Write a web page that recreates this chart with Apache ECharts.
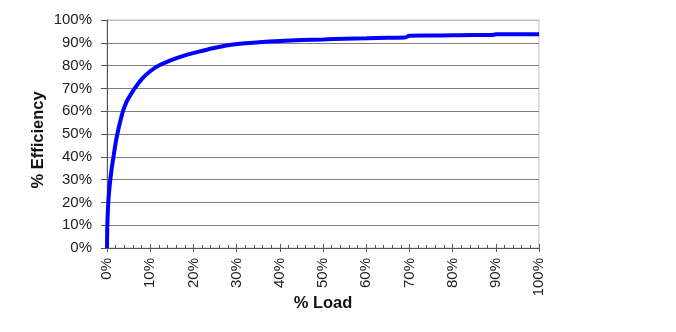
<!DOCTYPE html>
<html>
<head>
<meta charset="utf-8">
<script src="https://cdn.jsdelivr.net/npm/echarts@6/dist/echarts.min.js"></script>
<style>
  html, body { margin: 0; padding: 0; background: #fff; }
  #chart { width: 676px; height: 332px; }
</style>
</head>
<body>
<div id="chart"></div>
<script>
// Converter efficiency as a function of load (both in percent)
const loadPct = [0, 0.05, 0.15, 0.3, 0.5, 0.77, 1.1, 1.5, 2, 2.4, 3, 3.7, 4.5, 5.4, 6.4, 8, 10, 12, 15, 18.4, 21, 24.5, 28, 32, 36, 40, 45, 50, 55, 60, 65, 69, 70, 75, 80, 85, 89, 90, 95, 100];
const efficiencyPct = [0, 8, 14, 20, 25, 30, 35, 40, 46, 50, 55, 60, 64, 67, 70, 74, 77.5, 80, 82.5, 84.7, 86, 87.6, 88.9, 89.8, 90.4, 90.8, 91.2, 91.5, 91.8, 92, 92.2, 92.3, 93.1, 93.2, 93.3, 93.4, 93.4, 93.7, 93.7, 93.7];
const axisMin = 0;
const axisMax = 100;
const tickStep = 10;

const font = '"Liberation Sans", Arial, sans-serif';
const points = loadPct.map((x, i) => [x, efficiencyPct[i]]);

// one colour per horizontal gridline, 0% .. 100%; the top one doubles as the frame
const gridColors = ['#808080', '#808080', '#808080', '#808080', '#808080', '#808080',
                    '#808080', '#808080', '#808080', '#808080', '#c0c0c0'];

const chart = echarts.init(document.getElementById('chart'));
chart.setOption({
  animation: false,
  grid: { left: 107, right: 137, top: 20, bottom: 84, show: true, borderColor: '#c0c0c0', borderWidth: 1 },
  xAxis: [{
    type: 'value', min: axisMin, max: axisMax, interval: tickStep,
    name: '% Load', nameLocation: 'middle', nameGap: 47, nameMoveOverlap: false,
    nameTextStyle: { fontFamily: font, fontSize: 16.5, fontWeight: 'bold', color: '#111' },
    axisLine: { show: true, lineStyle: { color: '#555', width: 1 } },
    axisTick: { show: true, inside: false, length: 4, lineStyle: { color: '#555' } },
    axisLabel: { rotate: 90, margin: 10, fontFamily: font, fontSize: 15, color: '#222',
                 formatter: '{value}%' },
    splitLine: { show: false }
  }, {
    // overlay axis: inside major + minor ticks so majors cross the axis line
    type: 'value', min: axisMin, max: axisMax, interval: tickStep, position: 'bottom',
    axisLine: { show: false },
    axisTick: { show: true, inside: true, length: 4, lineStyle: { color: '#555' } },
    minorTick: { show: true, splitNumber: 5, length: 3, lineStyle: { color: '#555' } },
    axisLabel: { show: false },
    splitLine: { show: false }
  }],
  yAxis: {
    type: 'value', min: axisMin, max: axisMax, interval: tickStep,
    name: '% Efficiency', nameLocation: 'middle', nameGap: 60, nameRotate: 90, nameMoveOverlap: false,
    nameTextStyle: { fontFamily: font, fontSize: 16.5, fontWeight: 'bold', color: '#111',
                     padding: [0, 12, 0, 0] },
    axisLine: { show: true, lineStyle: { color: '#555', width: 1 } },
    axisTick: { show: true, inside: false, length: 6, lineStyle: { color: '#555' } },
    axisLabel: { margin: 15, fontFamily: font, fontSize: 15, color: '#222', formatter: '{value}%' },
    splitLine: { show: true, lineStyle: { color: gridColors, width: 1 } }
  },
  series: [{
    type: 'line',
    data: points,
    smooth: 0.3,
    showSymbol: false,
    lineStyle: { color: '#0000ff', width: 4 },
    z: 5
  }]
});
</script>
</body>
</html>
